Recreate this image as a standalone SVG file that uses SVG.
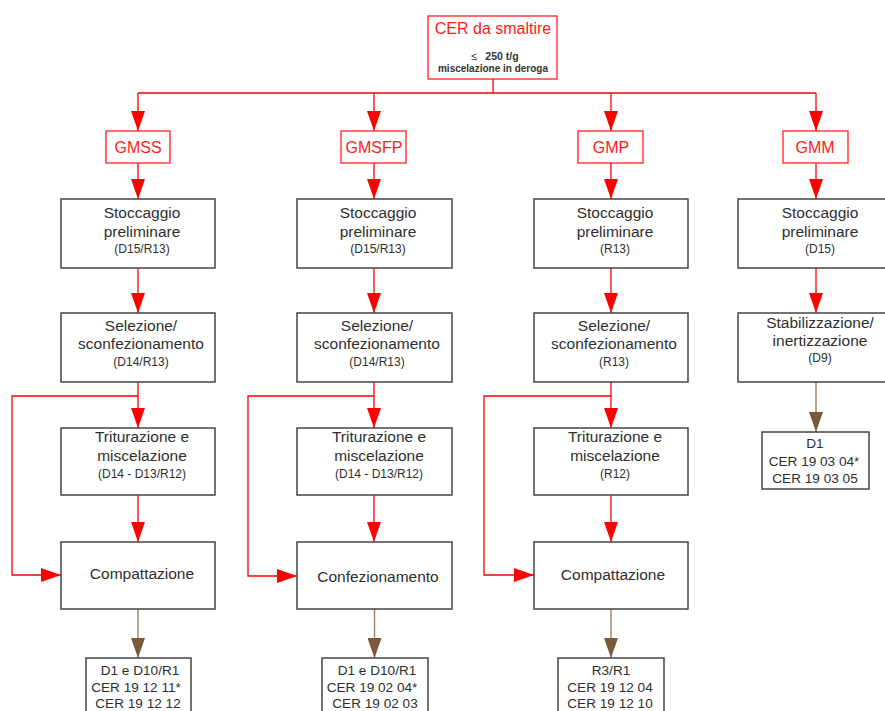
<svg xmlns="http://www.w3.org/2000/svg" width="885" height="711" viewBox="0 0 885 711">
<defs>
<style>
.box{fill:#fff;stroke:#444;stroke-width:1.5}
.gm{fill:#fff;stroke:#ff2020;stroke-width:1.3}
.t{font-family:"Liberation Sans",Arial,sans-serif;font-size:15.5px;fill:#2e2e2e;text-anchor:middle}
.s{font-family:"Liberation Sans",Arial,sans-serif;font-size:12px;fill:#2e2e2e;text-anchor:middle}
.o{font-family:"Liberation Sans",Arial,sans-serif;font-size:13.6px;fill:#2e2e2e;text-anchor:middle}
.r{font-family:"Liberation Sans",Arial,sans-serif;font-size:16px;fill:#ff1a1a;text-anchor:middle}
.b{font-family:"Liberation Sans",Arial,sans-serif;font-size:10px;font-weight:bold;fill:#333;text-anchor:middle}
.red{fill:none;stroke:#ff0000;stroke-width:1.3}
.brn{fill:none;stroke:#a08868;stroke-width:1.5}
</style>
<marker id="ar" viewBox="0 0 20 14" refX="20" refY="7" markerWidth="20" markerHeight="14" markerUnits="userSpaceOnUse" orient="auto"><path d="M0,0 L20,7 L0,14 z" fill="#ff0000"/></marker>
<marker id="ab" viewBox="0 0 20 14" refX="20" refY="7" markerWidth="20" markerHeight="14" markerUnits="userSpaceOnUse" orient="auto"><path d="M0,0 L20,7 L0,14 z" fill="#7a5a3a"/></marker>
</defs>

<g id="connectors">
<path class="red" d="M493,79 V93 M138,93 H816"/>
<path class="red" d="M138,93 V131" marker-end="url(#ar)"/>
<path class="red" d="M374,93 V131" marker-end="url(#ar)"/>
<path class="red" d="M611,93 V131" marker-end="url(#ar)"/>
<path class="red" d="M816,93 V131" marker-end="url(#ar)"/>
<path class="red" d="M138,163 V199" marker-end="url(#ar)"/>
<path class="red" d="M374,163 V199" marker-end="url(#ar)"/>
<path class="red" d="M611,163 V199" marker-end="url(#ar)"/>
<path class="red" d="M816,163 V199" marker-end="url(#ar)"/>
<path class="red" d="M138,268 V313" marker-end="url(#ar)"/>
<path class="red" d="M374,268 V313" marker-end="url(#ar)"/>
<path class="red" d="M611,268 V313" marker-end="url(#ar)"/>
<path class="red" d="M816,268 V313" marker-end="url(#ar)"/>
<path class="red" d="M138,382 V428" marker-end="url(#ar)"/>
<path class="red" d="M374,382 V428" marker-end="url(#ar)"/>
<path class="red" d="M611,382 V428" marker-end="url(#ar)"/>
<path class="red" d="M138,495 V542" marker-end="url(#ar)"/>
<path class="red" d="M374,495 V542" marker-end="url(#ar)"/>
<path class="red" d="M611,495 V542" marker-end="url(#ar)"/>
<path class="red" d="M138,396 H12 V575 H61" marker-end="url(#ar)"/>
<path class="red" d="M374,396 H248 V576 H297" marker-end="url(#ar)"/>
<path class="red" d="M611,396 H484 V575 H534" marker-end="url(#ar)"/>
<path class="brn" d="M138,609 V658" marker-end="url(#ab)"/>
<path class="brn" d="M374.5,609 V658" marker-end="url(#ab)"/>
<path class="brn" d="M611,609 V658" marker-end="url(#ab)"/>
<path class="brn" d="M816,382 V432" marker-end="url(#ab)"/>
</g>

<g id="top">
<rect class="gm" x="428" y="16" width="129" height="63"/>
<text class="r" x="493" y="34">CER da smaltire</text>
<text class="b" x="474" y="60" style="font-weight:normal;font-size:11px">≤</text>
<text class="b" x="502" y="60" style="font-size:10.5px">250 t/g</text>
<text class="b" x="493" y="72">miscelazione in deroga</text>
</g>

<g id="gmss"><rect class="gm" x="106" y="131" width="64" height="32"/><text class="r" x="138" y="153">GMSS</text></g>
<g id="gmsfp"><rect class="gm" x="341" y="131" width="65" height="32"/><text class="r" x="374" y="153">GMSFP</text></g>
<g id="gmp"><rect class="gm" x="578" y="131" width="65" height="32"/><text class="r" x="611" y="153">GMP</text></g>
<g id="gmm"><rect class="gm" x="783" y="131" width="65" height="32"/><text class="r" x="815" y="153">GMM</text></g>

<g id="stocc1"><rect class="box" x="61" y="199" width="154" height="69"/>
<text class="t" x="142" y="218">Stoccaggio</text><text class="t" x="142" y="237">preliminare</text><text class="s" x="142" y="253">(D15/R13)</text></g>
<g id="stocc2"><rect class="box" x="297" y="199" width="155" height="69"/>
<text class="t" x="378" y="218">Stoccaggio</text><text class="t" x="378" y="237">preliminare</text><text class="s" x="378" y="253">(D15/R13)</text></g>
<g id="stocc3"><rect class="box" x="534" y="199" width="154" height="69"/>
<text class="t" x="615" y="218">Stoccaggio</text><text class="t" x="615" y="237">preliminare</text><text class="s" x="615" y="253">(R13)</text></g>
<g id="stocc4"><rect class="box" x="738" y="199" width="156" height="69"/>
<text class="t" x="820" y="218">Stoccaggio</text><text class="t" x="820" y="237">preliminare</text><text class="s" x="820" y="253">(D15)</text></g>

<g id="sel1"><rect class="box" x="61" y="313" width="154" height="69"/>
<text class="t" x="141" y="331">Selezione/</text><text class="t" x="141" y="349">sconfezionamento</text><text class="s" x="141" y="366">(D14/R13)</text></g>
<g id="sel2"><rect class="box" x="297" y="313" width="155" height="69"/>
<text class="t" x="377" y="331">Selezione/</text><text class="t" x="377" y="349">sconfezionamento</text><text class="s" x="377" y="366">(D14/R13)</text></g>
<g id="sel3"><rect class="box" x="534" y="313" width="154" height="69"/>
<text class="t" x="614" y="331">Selezione/</text><text class="t" x="614" y="349">sconfezionamento</text><text class="s" x="614" y="366">(R13)</text></g>
<g id="stab4"><rect class="box" x="738" y="313" width="156" height="69"/>
<text class="t" x="820" y="328">Stabilizzazione/</text><text class="t" x="820" y="346">inertizzazione</text><text class="s" x="820" y="362">(D9)</text></g>

<g id="trit1"><rect class="box" x="61" y="428" width="154" height="67"/>
<text class="t" x="142" y="442">Triturazione e</text><text class="t" x="142" y="461">miscelazione</text><text class="s" x="142" y="478">(D14 - D13/R12)</text></g>
<g id="trit2"><rect class="box" x="297" y="428" width="155" height="67"/>
<text class="t" x="379" y="442">Triturazione e</text><text class="t" x="379" y="461">miscelazione</text><text class="s" x="379" y="478">(D14 - D13/R12)</text></g>
<g id="trit3"><rect class="box" x="534" y="428" width="154" height="67"/>
<text class="t" x="615" y="442">Triturazione e</text><text class="t" x="615" y="461">miscelazione</text><text class="s" x="615" y="478">(R12)</text></g>

<g id="comp1"><rect class="box" x="61" y="542" width="154" height="67"/>
<text class="t" x="142" y="579">Compattazione</text></g>
<g id="conf2"><rect class="box" x="297" y="542" width="155" height="67"/>
<text class="t" x="378" y="582">Confezionamento</text></g>
<g id="comp3"><rect class="box" x="534" y="542" width="154" height="67"/>
<text class="t" x="613" y="580">Compattazione</text></g>

<g id="out1"><rect class="box" x="86" y="658" width="105" height="60"/>
<text class="o" x="140" y="675">D1 e D10/R1</text><text class="o" x="136" y="692">CER 19 12 11*</text><text class="o" x="138" y="708">CER 19 12 12</text></g>
<g id="out2"><rect class="box" x="322" y="658" width="106" height="60"/>
<text class="o" x="377" y="675">D1 e D10/R1</text><text class="o" x="372" y="692">CER 19 02 04*</text><text class="o" x="375" y="708">CER 19 02 03</text></g>
<g id="out3"><rect class="box" x="558" y="658" width="106" height="60"/>
<text class="o" x="611" y="675">R3/R1</text><text class="o" x="610" y="692">CER 19 12 04</text><text class="o" x="610" y="708">CER 19 12 10</text></g>
<g id="out4"><rect class="box" x="762" y="432" width="107" height="57"/>
<text class="o" x="815" y="448">D1</text><text class="o" x="814" y="466">CER 19 03 04*</text><text class="o" x="815" y="483">CER 19 03 05</text></g>
</svg>
